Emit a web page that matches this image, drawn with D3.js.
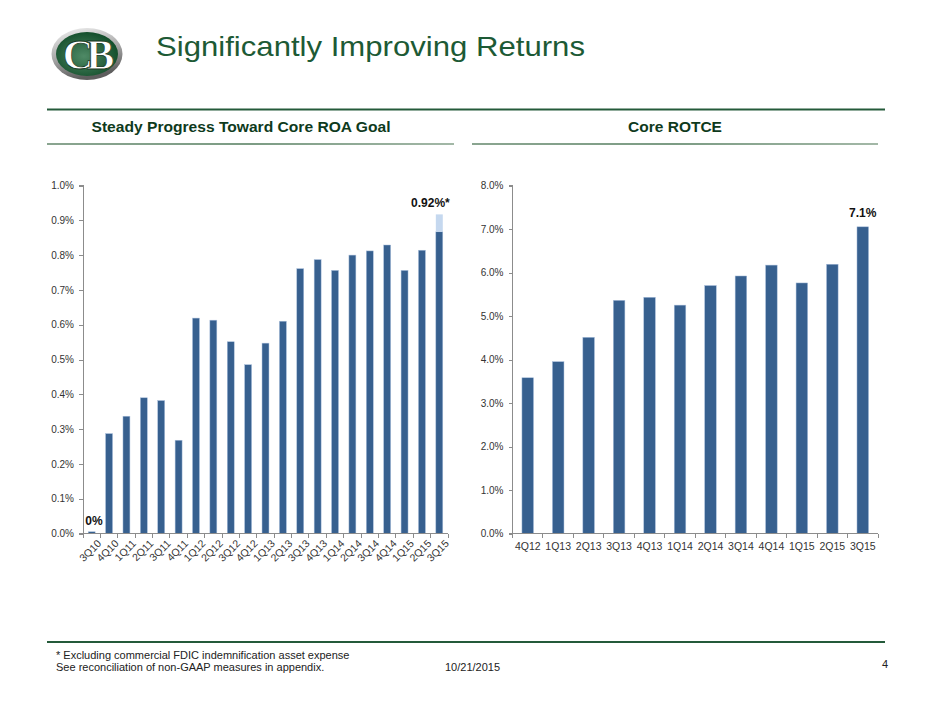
<!DOCTYPE html>
<html lang="en">
<head>
<meta charset="utf-8">
<title>Significantly Improving Returns</title>
<script src="https://d3js.org/d3.v7.min.js"></script>
<style>
body { margin: 0; background: #fff; }
svg text { font-family: "Liberation Sans", Arial, Helvetica, sans-serif; }
.axis path, .axis line { stroke: #8c8c8c; stroke-width: 1px; shape-rendering: crispEdges; }
.axis text { fill: #333; font-size: 10px; }
</style>
</head>
<body>
<div id="slide"></div>
<script>
// Core ROA by quarter (%)
var roaQuarters = ["3Q10","4Q10","1Q11","2Q11","3Q11","4Q11","1Q12","2Q12","3Q12","4Q12","1Q13",
                   "2Q13","3Q13","4Q13","1Q14","2Q14","3Q14","4Q14","1Q15","2Q15","3Q15"];
var roaValues   = [0.005,0.287,0.337,0.39,0.382,0.268,0.619,0.613,0.551,0.485,0.547,
                   0.61,0.761,0.787,0.756,0.80,0.812,0.829,0.756,0.814,0.867];
// excluding FDIC indemnification asset expense (only last quarter)
var roaAdjusted = [null,null,null,null,null,null,null,null,null,null,null,
                   null,null,null,null,null,null,null,null,null,0.917];
var roaTicks = [0,0.1,0.2,0.3,0.4,0.5,0.6,0.7,0.8,0.9,1.0];
var roaLabels = [{q: "3Q10", text: "0%"}, {q: "3Q15", text: "0.92%*"}];

// Core ROTCE by quarter (%)
var rotceQuarters = ["4Q12","1Q13","2Q13","3Q13","4Q13","1Q14","2Q14","3Q14","4Q14","1Q15","2Q15","3Q15"];
var rotceValues   = [3.58,3.95,4.51,5.36,5.43,5.25,5.70,5.92,6.17,5.76,6.19,7.05];
var rotceTicks = [0,1,2,3,4,5,6,7,8];
var rotceLabels = [{q: "3Q15", text: "7.1%"}];

var width = 940, height = 705;
var green = "#1d5a35", darkGreen = "#0e3a1c", barBlue = "#37608f", lightBlue = "#c5d8ef";

var svg = d3.select("#slide").append("svg")
    .attr("width", width)
    .attr("height", height);

var defs = svg.append("defs");
var rim = defs.append("linearGradient").attr("id", "rim").attr("x1", 0).attr("y1", 0).attr("x2", 0.3).attr("y2", 1);
rim.append("stop").attr("offset", "0%").attr("stop-color", "#f4f4f4");
rim.append("stop").attr("offset", "55%").attr("stop-color", "#a9a9a9");
rim.append("stop").attr("offset", "100%").attr("stop-color", "#5e5e5e");
var core = defs.append("radialGradient").attr("id", "core").attr("cx", "45%").attr("cy", "55%").attr("r", "60%");
core.append("stop").attr("offset", "0%").attr("stop-color", "#4f8a66");
core.append("stop").attr("offset", "100%").attr("stop-color", "#0f4a27");
var rule = defs.append("linearGradient").attr("id", "rule");
rule.append("stop").attr("offset", "0%").attr("stop-color", "#8aa590");
rule.append("stop").attr("offset", "50%").attr("stop-color", "#7c9c84");
rule.append("stop").attr("offset", "100%").attr("stop-color", "#a3b8a7");

// logo
var logo = svg.append("g").attr("transform", "translate(87,54)");
logo.append("ellipse").attr("rx", 35.5).attr("ry", 26).attr("fill", "url(#rim)");
logo.append("ellipse").attr("rx", 31).attr("ry", 22).attr("fill", "url(#core)");
logo.append("text").attr("x", -2).attr("y", 15).attr("text-anchor", "middle")
    .style("font-family", "'Liberation Serif', 'DejaVu Serif', serif")
    .style("font-size", "42px").style("font-weight", "bold").style("letter-spacing", "-7px")
    .attr("fill", "#fff").attr("stroke", "#1a3a24").attr("stroke-width", 0.8).text("CB");

svg.append("text")
    .attr("x", 156).attr("y", 56)
    .attr("textLength", 429).attr("lengthAdjust", "spacingAndGlyphs")
    .style("font-size", "28px").attr("fill", green)
    .text("Significantly Improving Returns");

// section rules and headers
svg.append("line").attr("x1", 47).attr("x2", 885).attr("y1", 109.5).attr("y2", 109.5)
    .attr("stroke", "#245a3a").attr("stroke-width", 2);
svg.append("rect").attr("x", 47).attr("width", 407).attr("y", 143).attr("height", 2).attr("fill", "url(#rule)");
svg.append("rect").attr("x", 472).attr("width", 406).attr("y", 143).attr("height", 2).attr("fill", "url(#rule)");

svg.append("text").attr("x", 241).attr("y", 132).attr("text-anchor", "middle")
    .attr("textLength", 299).attr("lengthAdjust", "spacingAndGlyphs")
    .style("font-size", "15px").style("font-weight", "bold").attr("fill", darkGreen)
    .text("Steady Progress Toward Core ROA Goal");
svg.append("text").attr("x", 675).attr("y", 132).attr("text-anchor", "middle")
    .style("font-size", "15.5px").style("font-weight", "bold").attr("fill", darkGreen)
    .text("Core ROTCE");

function pct(d) { return d.toFixed(1) + "%"; }

// draws one bar chart; returns scales
function barChart(opts) {
  var x = d3.scaleBand().domain(opts.cats).range([opts.x0, opts.x1])
      .paddingInner(opts.pad).paddingOuter(opts.pad / 2);
  var y = d3.scaleLinear().domain([0, opts.max]).range([opts.y0, opts.y1]);
  var g = svg.append("g");

  g.append("g").attr("class", "axis")
      .attr("transform", "translate(" + opts.x0 + ",0)")
      .call(d3.axisLeft(y).tickValues(opts.ticks).tickSize(4).tickPadding(5).tickFormat(pct))
      .call(function(a) { a.select(".domain").attr("d", "M-4," + opts.y1 + "H0V" + opts.y0 + "H-4"); });

  // bars
  g.selectAll("rect.bar").data(opts.cats).enter().append("rect")
      .attr("class", "bar")
      .attr("x", function(d) { return x(d); })
      .attr("width", x.bandwidth())
      .attr("y", function(d, i) { return y(opts.values[i]); })
      .attr("height", function(d, i) { return y(0) - y(opts.values[i]); })
      .attr("fill", barBlue).attr("stroke", "#a8bedb").attr("stroke-width", 0.5);

  // x axis with category boundary ticks
  var step = x.step();
  var bounds = opts.cats.map(function(d) { return x(d) - (step - x.bandwidth()) / 2; });
  bounds.push(opts.x1);
  var xa = g.append("g").attr("class", "axis");
  xa.append("path").attr("d", "M" + opts.x0 + "," + opts.y0 + "H" + opts.x1);
  xa.selectAll("line").data(bounds).enter().append("line")
      .attr("x1", function(d) { return d; }).attr("x2", function(d) { return d; })
      .attr("y1", opts.y0).attr("y2", opts.y0 + 4);

  return {x: x, y: y, g: g};
}

// left chart
var roa = barChart({cats: roaQuarters, values: roaValues, ticks: roaTicks, max: 1.0,
                    x0: 83, x1: 448, y0: 533.5, y1: 185.5, pad: 0.6});
roa.g.selectAll("rect.adj").data(roaQuarters.filter(function(d, i) { return roaAdjusted[i] != null; }))
    .enter().append("rect")
    .attr("x", function(d) { return roa.x(d); })
    .attr("width", roa.x.bandwidth())
    .attr("y", function(d) { return roa.y(roaAdjusted[roaQuarters.indexOf(d)]); })
    .attr("height", function(d) { var i = roaQuarters.indexOf(d); return roa.y(roaValues[i]) - roa.y(roaAdjusted[i]); })
    .attr("fill", lightBlue);
roa.g.append("g").attr("class", "axis").selectAll("text").data(roaQuarters).enter().append("text")
    .attr("transform", function(d) {
      return "translate(" + (roa.x(d) + roa.x.bandwidth() / 2 + 5) + "," + 539 + ") rotate(-45)";
    })
    .attr("text-anchor", "end").attr("dy", "0.7em")
    .style("font-size", "10.5px")
    .text(function(d) { return d; });
roa.g.selectAll("text.lbl").data(roaLabels).enter().append("text")
    .attr("class", "lbl")
    .attr("x", function(d, i) { return i === 0 ? roa.x(d.q) - 3 : roa.x(d.q) + roa.x.bandwidth() + 7; })
    .attr("y", function(d, i) {
      var k = roaQuarters.indexOf(d.q);
      return (i === 0 ? roa.y(roaValues[k]) : roa.y(roaAdjusted[k])) - 7;
    })
    .attr("text-anchor", function(d, i) { return i === 0 ? "start" : "end"; })
    .style("font-size", "12px").style("font-weight", "bold").attr("fill", "#111")
    .text(function(d) { return d.text; });

// right chart
var rot = barChart({cats: rotceQuarters, values: rotceValues, ticks: rotceTicks, max: 8,
                    x0: 512.5, x1: 878, y0: 533.5, y1: 185.5, pad: 0.62});
rot.g.append("g").attr("class", "axis").selectAll("text").data(rotceQuarters).enter().append("text")
    .attr("x", function(d) { return rot.x(d) + rot.x.bandwidth() / 2; })
    .attr("y", 550)
    .attr("text-anchor", "middle").style("font-size", "10.5px")
    .text(function(d) { return d; });
rot.g.selectAll("text.lbl").data(rotceLabels).enter().append("text")
    .attr("class", "lbl")
    .attr("x", function(d) { return rot.x(d.q) + rot.x.bandwidth() / 2; })
    .attr("y", function(d) { return rot.y(rotceValues[rotceQuarters.indexOf(d.q)]) - 10; })
    .attr("text-anchor", "middle")
    .style("font-size", "12px").style("font-weight", "bold").attr("fill", "#111")
    .text(function(d) { return d.text; });

// footer
svg.append("line").attr("x1", 47).attr("x2", 885).attr("y1", 642).attr("y2", 642)
    .attr("stroke", "#245a3a").attr("stroke-width", 2);
svg.append("text").attr("x", 56).attr("y", 658.5).style("font-size", "11px").attr("fill", "#222")
    .text("* Excluding commercial FDIC indemnification asset expense");
svg.append("text").attr("x", 56).attr("y", 671).style("font-size", "11px").attr("fill", "#222")
    .text("See reconciliation of non-GAAP measures in appendix.");
svg.append("text").attr("x", 445).attr("y", 671).style("font-size", "11px").attr("fill", "#222")
    .text("10/21/2015");
svg.append("text").attr("x", 888).attr("y", 668).attr("text-anchor", "end")
    .style("font-size", "11px").attr("fill", "#222").text("4");
</script>
</body>
</html>
